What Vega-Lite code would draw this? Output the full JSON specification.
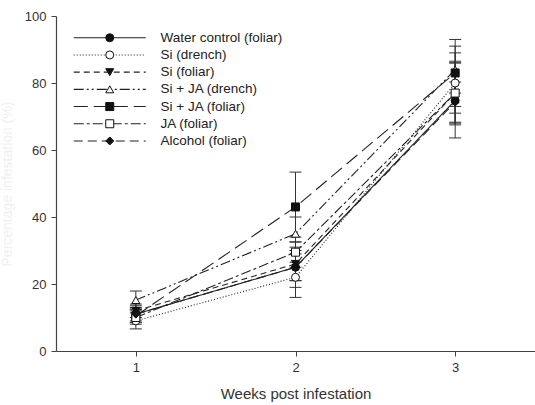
{
  "$schema": "https://vega.github.io/schema/vega-lite/v6.json",
  "width": 479,
  "height": 335,
  "autosize": {"type": "none"},
  "padding": {"left": 56, "top": 16, "right": 0, "bottom": 54},
  "config": {
    "view": {"stroke": null},
    "font": "Liberation Sans",
    "axis": {
      "domainColor": "#444",
      "domainWidth": 1.2,
      "tickColor": "#444",
      "tickSize": 5,
      "labelFontSize": 13,
      "labelColor": "#333",
      "labelFont": "Liberation Sans",
      "titleFont": "Liberation Sans",
      "titleFontWeight": "normal",
      "grid": false
    }
  },
  "data": {
    "values": [
      {"series": "Water control (foliar)", "week": 1, "mean": 11, "lo": 8.5, "hi": 13.5},
      {"series": "Water control (foliar)", "week": 2, "mean": 25, "lo": 16, "hi": 34},
      {"series": "Water control (foliar)", "week": 3, "mean": 74.8, "lo": 63.6, "hi": 86},
      {"series": "Si (drench)", "week": 1, "mean": 9, "lo": 6.6, "hi": 11.4},
      {"series": "Si (drench)", "week": 2, "mean": 22, "lo": 19, "hi": 25},
      {"series": "Si (drench)", "week": 3, "mean": 80, "lo": 71, "hi": 89},
      {"series": "Si (foliar)", "week": 1, "mean": 12, "lo": 10, "hi": 14},
      {"series": "Si (foliar)", "week": 2, "mean": 26, "lo": 21, "hi": 31},
      {"series": "Si (foliar)", "week": 3, "mean": 77, "lo": 68, "hi": 86},
      {"series": "Si + JA (drench)", "week": 1, "mean": 15.2, "lo": 12.5, "hi": 17.9},
      {"series": "Si + JA (drench)", "week": 2, "mean": 35, "lo": 30, "hi": 40},
      {"series": "Si + JA (drench)", "week": 3, "mean": 84, "lo": 77, "hi": 91},
      {"series": "Si + JA (foliar)", "week": 1, "mean": 10.5, "lo": 8.5, "hi": 12.5},
      {"series": "Si + JA (foliar)", "week": 2, "mean": 43, "lo": 32.6, "hi": 53.4},
      {"series": "Si + JA (foliar)", "week": 3, "mean": 83, "lo": 73, "hi": 93},
      {"series": "JA (foliar)", "week": 1, "mean": 10, "lo": 8, "hi": 12},
      {"series": "JA (foliar)", "week": 2, "mean": 29.5, "lo": 26.5, "hi": 32.5},
      {"series": "JA (foliar)", "week": 3, "mean": 77, "lo": 67.5, "hi": 86.5},
      {"series": "Alcohol (foliar)", "week": 1, "mean": 11, "lo": 9, "hi": 13},
      {"series": "Alcohol (foliar)", "week": 2, "mean": 25, "lo": 21, "hi": 29},
      {"series": "Alcohol (foliar)", "week": 3, "mean": 74.3, "lo": 68.3, "hi": 80.3}
    ]
  },
  "encoding": {
    "x": {
      "field": "week",
      "type": "quantitative",
      "scale": {"domain": [0.5, 3.5], "nice": false, "zero": false},
      "axis": {
        "values": [1, 2, 3],
        "format": "d",
        "title": "Weeks post infestation",
        "titleFontSize": 15,
        "titleColor": "#333",
        "titlePadding": 12,
        "labelPadding": 5
      }
    }
  },
  "layer": [
    {
      "mark": {"type": "rule", "color": "#333", "strokeWidth": 1},
      "encoding": {
        "y": {"field": "lo", "type": "quantitative"},
        "y2": {"field": "hi"}
      }
    },
    {
      "mark": {"type": "tick", "orient": "horizontal", "color": "#333", "thickness": 1, "size": 12, "opacity": 1},
      "encoding": {"y": {"field": "lo", "type": "quantitative"}}
    },
    {
      "mark": {"type": "tick", "orient": "horizontal", "color": "#333", "thickness": 1, "size": 12, "opacity": 1},
      "encoding": {"y": {"field": "hi", "type": "quantitative"}}
    },
    {
      "mark": {"type": "line", "color": "#222", "strokeWidth": 1.1},
      "encoding": {
        "y": {
          "field": "mean",
          "type": "quantitative",
          "scale": {"domain": [0, 100], "nice": false},
          "axis": {
            "values": [0, 20, 40, 60, 80, 100],
            "title": "Percentage infestation (%)",
            "titleColor": "#f0f0f0",
            "titleFontSize": 14,
            "titlePadding": 10,
            "labelPadding": 5
          }
        },
        "strokeDash": {
          "field": "series",
          "type": "nominal",
          "sort": ["Water control (foliar)", "Si (drench)", "Si (foliar)", "Si + JA (drench)", "Si + JA (foliar)", "JA (foliar)", "Alcohol (foliar)"],
          "scale": {"range": [[1, 0], [1, 2], [6, 4], [10, 3, 2, 3, 2, 3], [14, 6], [10, 3, 3, 3], [9, 5]]},
          "legend": {
            "orient": "none",
            "legendX": 0,
            "legendY": 15,
            "title": null,
            "padding": 0,
            "symbolType": "M-9,0H9",
            "symbolSize": 64,
            "symbolStrokeWidth": 1.1,
            "symbolStrokeColor": "#222",
            "symbolFillColor": "transparent",
            "symbolOffset": 47,
            "labelOffset": 44,
            "labelFontSize": 13.5,
            "labelColor": "#222",
            "labelFont": "Liberation Sans",
            "rowPadding": 2.2,
            "zindex": 0
          }
        }
      }
    },
    {
      "mark": {"type": "point", "filled": true, "strokeWidth": 1, "size": 64, "opacity": 1},
      "encoding": {
        "y": {"field": "mean", "type": "quantitative"},
        "shape": {
          "field": "series",
          "type": "nominal",
          "scale": {
            "domain": ["Water control (foliar)", "Si (drench)", "Si (foliar)", "Si + JA (drench)", "Si + JA (foliar)", "JA (foliar)", "Alcohol (foliar)"],
            "range": ["circle", "circle", "triangle-down", "triangle-up", "square", "square", "diamond"]
          },
          "legend": {
            "orient": "none",
            "legendX": 0,
            "legendY": 15,
            "title": null,
            "padding": 0,
            "symbolSize": 64,
            "symbolStrokeWidth": 1,
            "symbolOffset": 47,
            "labelOffset": 44,
            "labelFontSize": 13.5,
            "labelOpacity": 0,
            "labelFont": "Liberation Sans",
            "rowPadding": 2.2,
            "zindex": 1
          }
        },
        "fill": {
          "field": "series",
          "type": "nominal",
          "scale": {
            "domain": ["Water control (foliar)", "Si (drench)", "Si (foliar)", "Si + JA (drench)", "Si + JA (foliar)", "JA (foliar)", "Alcohol (foliar)"],
            "range": ["#111", "#ffffff", "#111", "#ffffff", "#111", "#ffffff", "#111"]
          }
        },
        "stroke": {
          "field": "series",
          "type": "nominal",
          "scale": {
            "domain": ["Water control (foliar)", "Si (drench)", "Si (foliar)", "Si + JA (drench)", "Si + JA (foliar)", "JA (foliar)", "Alcohol (foliar)"],
            "range": ["#111", "#111", "#111", "#111", "#111", "#111", "#111"]
          }
        }
      }
    }
  ]
}
